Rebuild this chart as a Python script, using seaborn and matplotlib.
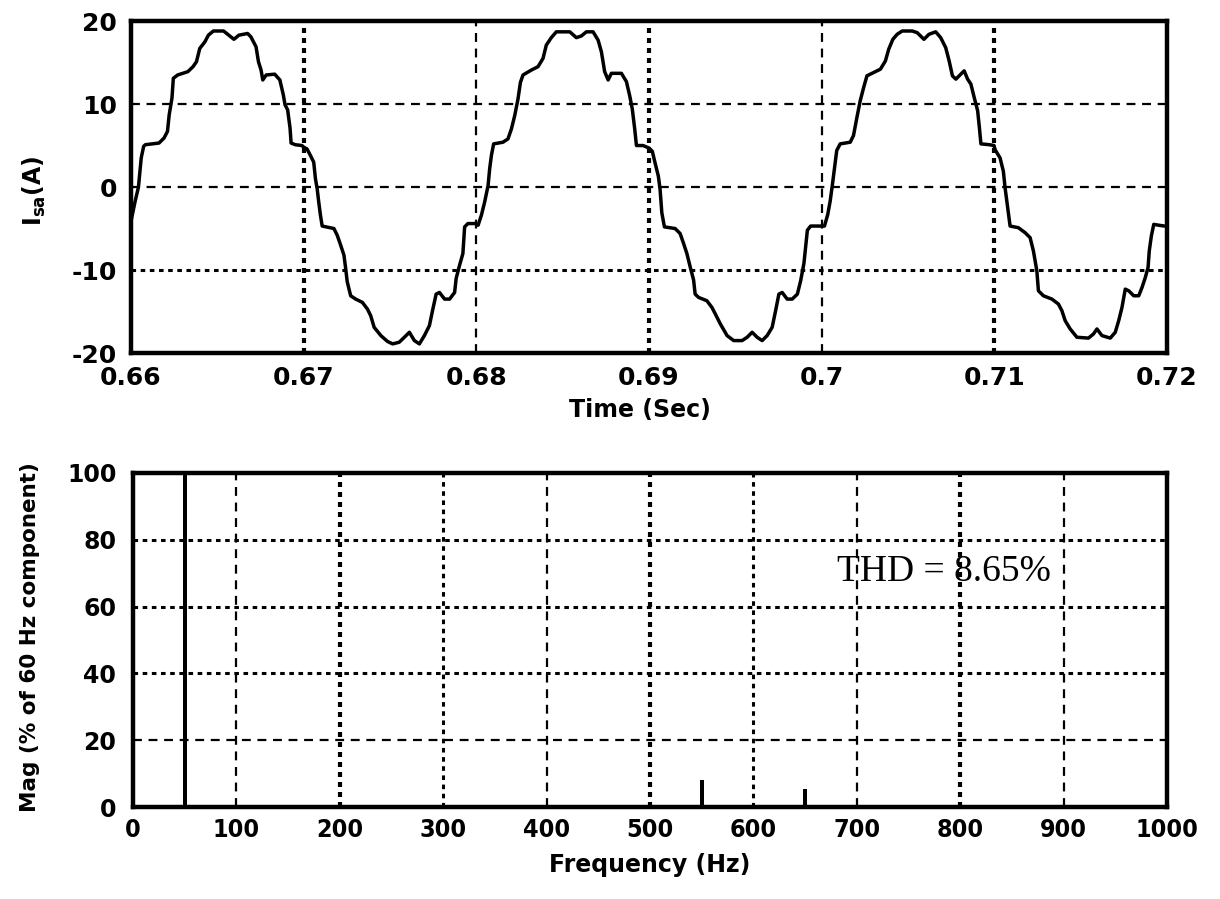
import matplotlib
matplotlib.use("Agg")
import matplotlib.pyplot as plt
from matplotlib import font_manager
import numpy as np
import pandas as pd
import seaborn as sns

# ---- phase-a line current, sampled along each 10 ms block ----
t_blk1 = [0.66000, 0.66024, 0.66043, 0.66059, 0.66073, 0.66083, 0.66162, 0.66191, 0.66211, 0.66221,
          0.66237, 0.66245, 0.66270, 0.66329, 0.66359, 0.66379, 0.66398, 0.66428, 0.66448, 0.66477,
          0.66536, 0.66566, 0.66596, 0.66625, 0.66675, 0.66694, 0.66724, 0.66738, 0.66753, 0.66763,
          0.66783, 0.66832, 0.66862, 0.66882, 0.66892, 0.66907, 0.66921, 0.66927, 0.66951, 0.66990]
i_blk1 = [-4.1, -1.7, 0.0, 3.5, 4.9, 5.1, 5.3, 5.9, 6.7, 8.7,
          10.7, 13.1, 13.5, 13.9, 14.5, 15.1, 16.7, 17.5, 18.3, 18.8,
          18.8, 18.3, 17.8, 18.3, 18.5, 18.1, 16.9, 15.1, 14.1, 12.9,
          13.5, 13.6, 12.9, 11.1, 9.9, 9.3, 7.1, 5.3, 5.1, 5.0]

t_blk2 = [0.67000, 0.67019, 0.67039, 0.67058, 0.67068, 0.67078, 0.67087, 0.67097, 0.67107, 0.67175,
          0.67194, 0.67214, 0.67233, 0.67243, 0.67252, 0.67272, 0.67301, 0.67340, 0.67369, 0.67388,
          0.67408, 0.67447, 0.67485, 0.67515, 0.67553, 0.67583, 0.67612, 0.67641, 0.67670, 0.67699,
          0.67728, 0.67748, 0.67767, 0.67786, 0.67816, 0.67845, 0.67874, 0.67883, 0.67903, 0.67922,
          0.67932, 0.67951, 0.67995]
i_blk2 = [4.8, 4.6, 3.8, 3.0, 1.0, -0.2, -1.8, -3.4, -4.7, -5.0,
          -5.8, -7.0, -8.2, -9.8, -11.4, -13.1, -13.5, -13.9, -14.7, -15.5,
          -16.9, -17.9, -18.6, -18.9, -18.7, -18.1, -17.5, -18.5, -18.9, -17.9,
          -16.7, -14.7, -12.9, -12.7, -13.5, -13.5, -12.7, -11.0, -9.4, -8.0,
          -4.8, -4.4, -4.4]

t_blk3 = [0.68010, 0.68029, 0.68048, 0.68068, 0.68077, 0.68087, 0.68100, 0.68154, 0.68183, 0.68203,
          0.68222, 0.68241, 0.68255, 0.68270, 0.68319, 0.68357, 0.68386, 0.68405, 0.68434, 0.68463,
          0.68541, 0.68579, 0.68608, 0.68637, 0.68676, 0.68705, 0.68724, 0.68743, 0.68763, 0.68782,
          0.68840, 0.68869, 0.68888, 0.68903, 0.68917, 0.68927, 0.68965]
i_blk3 = [-4.6, -3.4, -1.8, 0.2, 2.2, 3.8, 5.2, 5.4, 5.8, 7.0,
          8.6, 10.6, 12.6, 13.5, 14.1, 14.5, 15.5, 17.1, 18.0, 18.7,
          18.7, 18.0, 18.2, 18.7, 18.7, 17.7, 16.3, 13.9, 12.9, 13.7,
          13.7, 12.7, 11.0, 9.4, 7.0, 5.0, 5.0]

t_blk4 = [0.69000, 0.69019, 0.69035, 0.69054, 0.69064, 0.69074, 0.69089, 0.69151, 0.69180, 0.69200,
          0.69219, 0.69238, 0.69258, 0.69267, 0.69287, 0.69335, 0.69364, 0.69384, 0.69413, 0.69452,
          0.69490, 0.69539, 0.69568, 0.69597, 0.69626, 0.69655, 0.69684, 0.69713, 0.69733, 0.69752,
          0.69771, 0.69800, 0.69829, 0.69859, 0.69878, 0.69897, 0.69907, 0.69917, 0.69936, 0.69994]
i_blk4 = [4.7, 4.3, 2.9, 1.3, -0.3, -3.1, -4.8, -5.0, -5.6, -6.8,
          -8.0, -9.6, -11.2, -12.9, -13.3, -13.7, -14.5, -15.3, -16.5, -17.9,
          -18.5, -18.5, -18.1, -17.5, -18.1, -18.5, -17.9, -16.9, -14.9, -12.9,
          -12.7, -13.5, -13.5, -12.9, -11.3, -9.2, -7.2, -5.2, -4.7, -4.7]

t_blk5 = [0.70016, 0.70035, 0.70049, 0.70062, 0.70074, 0.70087, 0.70107, 0.70165, 0.70184, 0.70204,
          0.70223, 0.70243, 0.70262, 0.70301, 0.70340, 0.70369, 0.70388, 0.70412, 0.70437, 0.70466,
          0.70524, 0.70553, 0.70592, 0.70621, 0.70660, 0.70689, 0.70718, 0.70738, 0.70757, 0.70777,
          0.70806, 0.70825, 0.70845, 0.70864, 0.70883, 0.70903, 0.70913, 0.70922, 0.70971, 0.70998]
i_blk5 = [-4.7, -3.3, -1.7, 0.3, 2.3, 4.4, 5.2, 5.4, 6.2, 8.4,
          10.4, 12.0, 13.4, 13.8, 14.2, 15.2, 16.6, 17.8, 18.4, 18.8,
          18.8, 18.6, 17.8, 18.4, 18.7, 18.0, 16.8, 15.2, 13.4, 13.0,
          13.6, 14.0, 13.0, 12.4, 10.8, 9.2, 7.2, 5.2, 5.1, 5.0]

t_blk6 = [0.71004, 0.71033, 0.71052, 0.71062, 0.71077, 0.71091, 0.71139, 0.71178, 0.71207, 0.71226,
          0.71246, 0.71255, 0.71284, 0.71333, 0.71371, 0.71391, 0.71410, 0.71439, 0.71478, 0.71545,
          0.71574, 0.71594, 0.71623, 0.71671, 0.71700, 0.71720, 0.71739, 0.71758, 0.71778, 0.71807,
          0.71836, 0.71855, 0.71874, 0.71890, 0.71897, 0.71909, 0.71923, 0.71952, 0.71985]
i_blk6 = [4.5, 3.5, 1.9, -0.1, -2.5, -4.7, -4.9, -5.5, -6.1, -7.7,
          -10.1, -12.5, -13.1, -13.5, -14.1, -14.9, -16.1, -17.1, -18.1, -18.2,
          -17.7, -17.1, -17.9, -18.2, -17.5, -16.1, -14.5, -12.3, -12.5, -13.1,
          -13.1, -12.1, -10.9, -9.7, -7.7, -5.9, -4.5, -4.6, -4.7]

# ---- harmonic spectrum (% of fundamental) ----
freq_hz = [50, 550, 650]
mag_pct = [100.0, 8.0, 5.5]
thd_text = "THD = 8.65%"

# ---- tick labels ----
time_ticks = [0.66, 0.67, 0.68, 0.69, 0.70, 0.71, 0.72]
time_labels = ["0.66", "0.67", "0.68", "0.69", "0.7", "0.71", "0.72"]
cur_ticks = [-20, -10, 0, 10, 20]
cur_labels = ["-20", "-10", "0", "10", "20"]
freq_ticks = [0, 100, 200, 300, 400, 500, 600, 700, 800, 900, 1000]
freq_labels = ["0", "100", "200", "300", "400", "500", "600", "700", "800", "900", "1000"]
mag_ticks = [0, 20, 40, 60, 80, 100]
mag_labels = ["0", "20", "40", "60", "80", "100"]

sns.set_theme(style="white")
plt.rcParams["font.family"] = ["DejaVu Sans"]
plt.rcParams["axes.unicode_minus"] = False
for key in ("text.color", "axes.labelcolor", "xtick.color", "ytick.color"):
    plt.rcParams[key] = "black"

available = {f.name for f in font_manager.fontManager.ttflist}
if "Liberation Sans Narrow" in available:
    narrow, narrow_size, narrow_stretch = "Liberation Sans Narrow", 24, "normal"
elif "DejaVu Sans Condensed" in available:
    narrow, narrow_size, narrow_stretch = "DejaVu Sans Condensed", 20, "condensed"
else:
    narrow, narrow_size, narrow_stretch = "DejaVu Sans", 18, "condensed"

wave = pd.DataFrame({
    "t": t_blk1 + t_blk2 + t_blk3 + t_blk4 + t_blk5 + t_blk6,
    "i": i_blk1 + i_blk2 + i_blk3 + i_blk4 + i_blk5 + i_blk6,
})
spec = pd.DataFrame({"f": freq_hz, "mag": mag_pct})

fig = plt.figure(figsize=(12.2, 8.99), dpi=100)
ax1 = fig.add_axes([0.1074, 0.6073, 0.8492, 0.3693])
ax2 = fig.add_axes([0.1090, 0.1023, 0.8475, 0.3716])

# ---- current waveform ----
sns.lineplot(data=wave, x="t", y="i", ax=ax1, color="black", lw=2.5,
             sort=False, estimator=None)
ax1.set_xlim(0.66, 0.72)
ax1.set_ylim(-20, 20)
ax1.set_xticks(time_ticks)
ax1.set_xticklabels(time_labels)
ax1.set_yticks(cur_ticks)
ax1.set_yticklabels(cur_labels)

# ---- spectrum ----
sns.barplot(data=spec, x="f", y="mag", ax=ax2, native_scale=True, color="black",
            saturation=1, width=0.04, linewidth=0)
ax2.set_xlim(0, 1000)
ax2.set_ylim(0, 100)
ax2.set_xticks(freq_ticks)
ax2.set_xticklabels(freq_labels)
ax2.set_yticks(mag_ticks)
ax2.set_yticklabels(mag_labels)
ax2.text(681, 70.4, thd_text, fontfamily="Liberation Serif", fontsize=27,
         ha="left", va="center", color="black")

for ax in (ax1, ax2):
    ax.grid(True, color="black", linestyle=(0, (4, 3)), linewidth=1.6)
    ax.set_axisbelow(False)
    for sp in ax.spines.values():
        sp.set_color("black")
        sp.set_linewidth(3.2)
        sp.set_zorder(5)
    ax.tick_params(length=0)

# heavier dotted rules on some grid lines
heavy = dict(linestyle=(0, (1.2, 1.2)), linewidth=3.0)
medium = dict(linestyle=(0, (1.5, 1.5)), linewidth=2.2)
xg1 = ax1.get_xgridlines()
for k in (1, 3, 5):
    xg1[k].set(**heavy)
yg1 = ax1.get_ygridlines()
yg1[1].set(**medium)
xg2 = ax2.get_xgridlines()
for k in (2, 5, 8):
    xg2[k].set(**heavy)
for k in (3, 6):
    xg2[k].set(**medium)
yg2 = ax2.get_ygridlines()
for k in (2, 3, 4):
    yg2[k].set(**medium)

for lab in ax1.get_xticklabels() + ax1.get_yticklabels():
    lab.set_fontweight("bold")
    lab.set_fontsize(18)
for lab in ax2.get_yticklabels():
    lab.set_fontweight("bold")
    lab.set_fontsize(17)
for lab in ax2.get_xticklabels():
    lab.set_fontfamily(narrow)
    lab.set_fontstretch(narrow_stretch)
    lab.set_fontweight("bold")
    lab.set_fontsize(narrow_size)
ax1.tick_params(axis="x", pad=9)
ax1.tick_params(axis="y", pad=10)
ax2.tick_params(axis="x", pad=8)
ax2.tick_params(axis="y", pad=12)

ax1.set_xlabel("Time (Sec)", fontsize=17, fontweight="bold", va="center")
ax1.xaxis.set_label_coords(0.491, -0.172)
ax1.set_ylabel(r"I$_{\mathbf{sa}}$(A)", fontsize=17, fontweight="bold", va="center")
ax1.yaxis.set_label_coords(-0.093, 0.49)

ax2.set_xlabel("Frequency (Hz)", fontsize=17, fontweight="bold", va="center")
ax2.xaxis.set_label_coords(0.4995, -0.174)
ax2.set_ylabel("Mag (% of 60 Hz component)", fontsize=15.5, fontweight="bold", va="center")
ax2.yaxis.set_label_coords(-0.0995, 0.51)

fig.savefig("out.png", dpi=100, facecolor="white")
